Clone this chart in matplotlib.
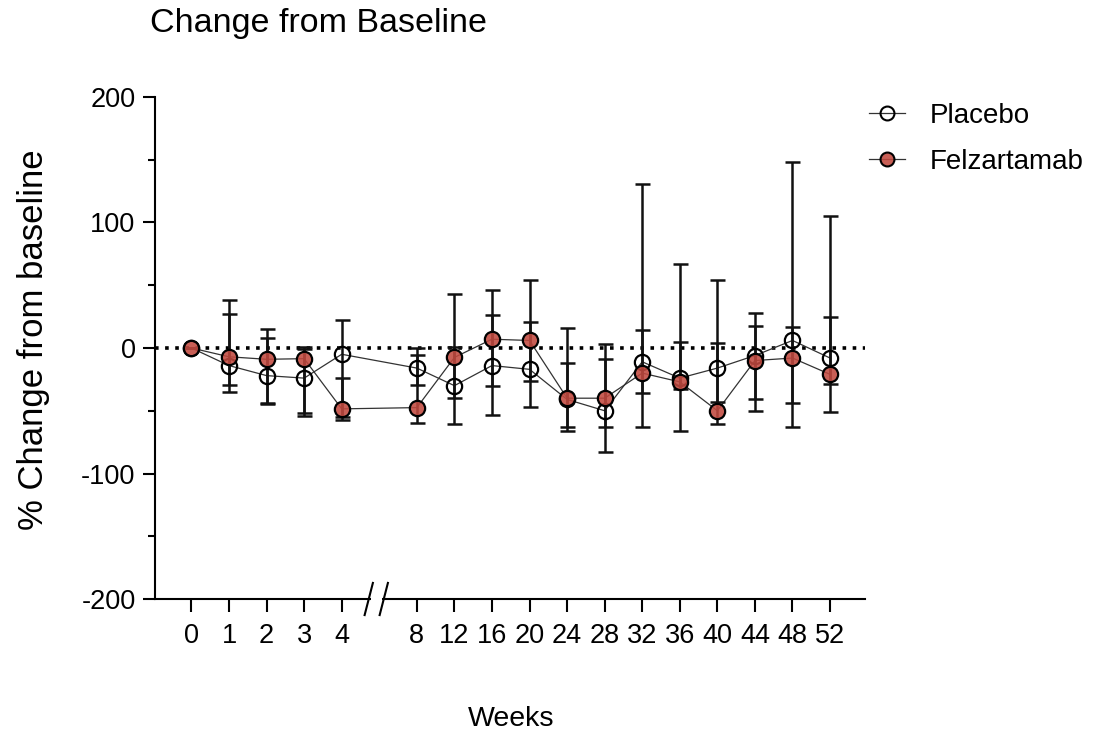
import numpy as np
import matplotlib
matplotlib.use("Agg")
import matplotlib.pyplot as plt
import matplotlib.transforms as mtransforms

plt.rcParams['font.family'] = ['Liberation Sans', 'DejaVu Sans']

weeks = ['0', '1', '2', '3', '4', '8', '12', '16', '20', '24', '28',
         '32', '36', '40', '44', '48', '52']

placebo_mean = [0, -14, -22, -24, -5, -16, -30, -14, -17, -41, -50,
                -11, -24, -16, -6, 6, -8]
placebo_upper = [0, 27, 7.7, 0.5, 22.3, -0.3, 1, 26, 20.7, 16, 3.2,
                 130.4, 67.3, 54, 27.6, 148, 105]
placebo_lower = [0, -35, -44.5, -54, -57, -29.4, -60.4, -53, -47, -66, -83,
                 -63.3, -66.5, -43.2, -50, -62.8, -51]

felz_mean = [0, -7, -9, -8.5, -48.5, -47.5, -7.5, 7, 6, -40, -40,
             -20, -27, -50, -10, -8, -21]
felz_upper = [0, 38, 14.8, -1, -24, -5.6, 43, 46, 54, -11.7, -9,
              14.6, 4.8, 4.2, 17.7, 17, 25]
felz_lower = [0, -29.5, -44, -51.4, -54.6, -60, -40, -30.2, -26.2, -62.6, -63.3,
              -36, -32.9, -60.7, -40.8, -44, -28.6]

# positions: gap of one slot after week 4 for the axis break
pos = np.array([i if i < 5 else i + 1 for i in range(len(weeks))])

fig = plt.figure(figsize=(11.16, 7.32), dpi=100)
ax = fig.add_axes([0.13889, 0.18169, 0.6362, 0.6858])

ax.axhline(0, color='black', lw=2.6, ls=(0, (1, 1.8)), zorder=1)


def draw(mean, upper, lower, face, label):
    mean = np.array(mean, float)
    yerr = [mean - np.array(lower), np.array(upper) - mean]
    ax.errorbar(pos, mean, yerr=yerr, fmt='none', ecolor='#111111',
                elinewidth=1.8, capsize=5.4, capthick=1.8, zorder=3)
    ax.plot(pos, mean, color='#333333', lw=0.9, zorder=2)
    ax.plot(pos, mean, ls='none', marker='o', ms=11, mew=1.6,
            mec='black', mfc=face, zorder=4)
    return ax.plot([], [], color='#333333', lw=0.9, marker='o', ms=10,
                   mew=1.5, mec='black', mfc=face, label=label)[0]


h1 = draw(placebo_mean, placebo_upper, placebo_lower, 'none', 'Placebo')
h2 = draw(felz_mean, felz_upper, felz_lower, (0.757, 0.286, 0.247, 0.88), 'Felzartamab')

ax.set_xlim(-0.97, 17.93)
ax.set_ylim(-200, 200)
ax.set_xticks(pos)
ax.set_xticklabels(weeks)
ax.set_yticks([-200, -100, 0, 100, 200])
ax.set_yticklabels(['-200', '-100', '0', '100', '200'])
ax.set_yticks([-150, -50, 50, 150], minor=True)

for s in ['top', 'right']:
    ax.spines[s].set_visible(False)
for s in ['left', 'bottom']:
    ax.spines[s].set_linewidth(1.5)
ax.tick_params(axis='both', which='major', length=9, width=1.5,
               labelsize=19.5, pad=5, color='black')
ax.tick_params(axis='y', which='minor', length=5, width=1.5)
ax.tick_params(axis='x', which='major', pad=8)

# axis break marks on the x axis
trans = mtransforms.blended_transform_factory(ax.transData, ax.transAxes)
ax.plot([4.78, 5.06], [0, 0], color='white', lw=4, transform=trans,
        clip_on=False, zorder=5, solid_capstyle='butt')
for cx in [4.72, 5.12]:
    ax.plot([cx - 0.11, cx + 0.11], [-0.032, 0.032], color='black', lw=1.5,
            transform=trans, clip_on=False, zorder=6)

fig.text(150 / 1116, 1 - 32 / 732, 'Change from Baseline', fontsize=24.5,
         ha='left', va='baseline')
fig.text(34 / 1116, 1 - 340 / 732, '% Change from baseline', fontsize=25,
         rotation=90, ha='center', va='center')
fig.text(511 / 1116, 1 - 726 / 732, 'Weeks', fontsize=20.5,
         ha='center', va='baseline')

fig.legend(handles=[h1, h2], loc='upper left', bbox_to_anchor=(858 / 1116, 1 - 92 / 732),
           frameon=False, fontsize=20, handlelength=1.3, handletextpad=0.9,
           labelspacing=0.7, borderaxespad=0)

fig.savefig('out.png', dpi=100)
